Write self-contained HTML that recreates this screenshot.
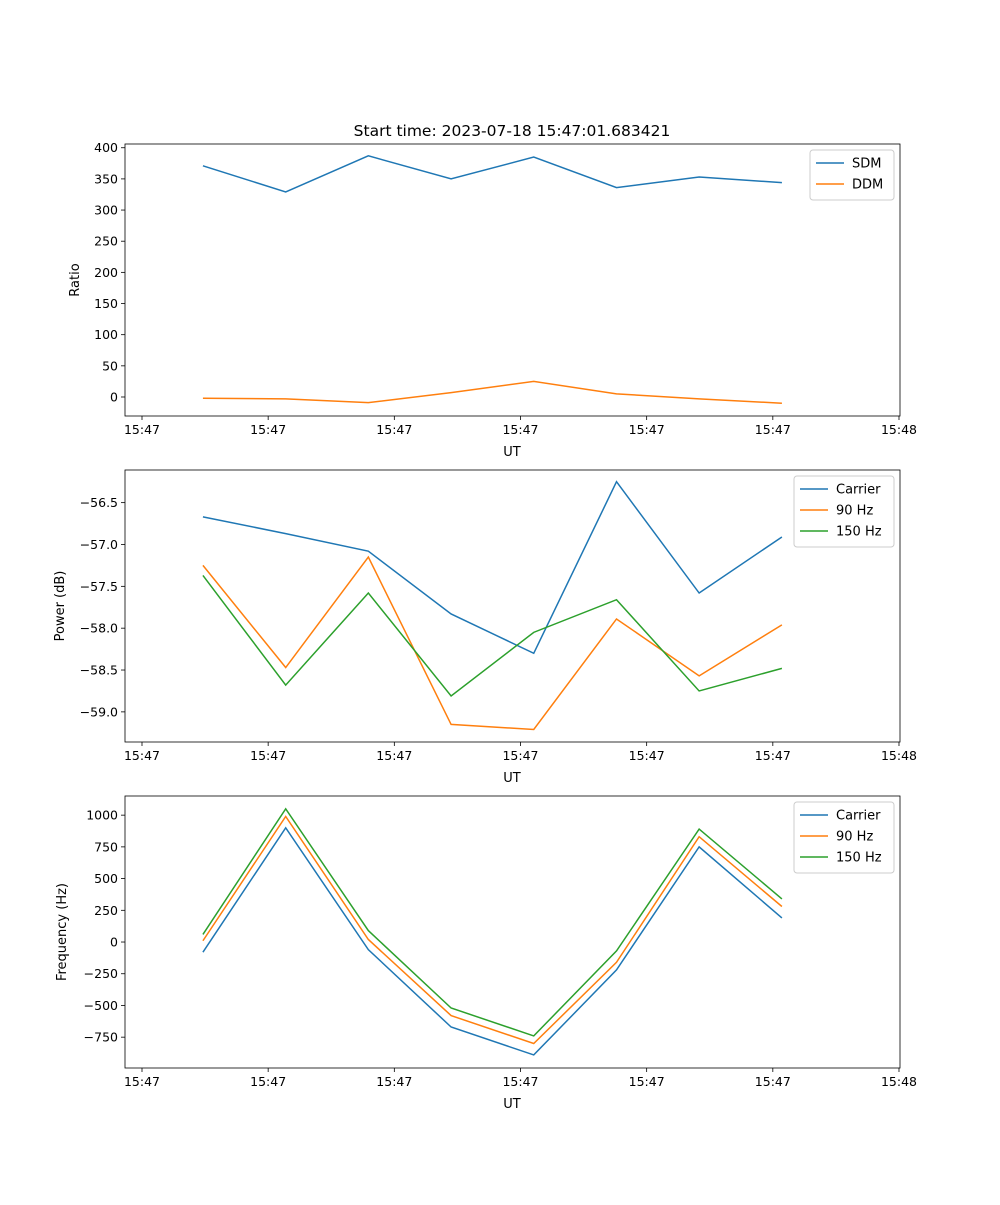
<!DOCTYPE html>
<html><head><meta charset="utf-8"><style>
body{margin:0;background:#fff;font-family:"Liberation Sans","DejaVu Sans",sans-serif}
svg text{font-family:"DejaVu Sans","Liberation Sans",sans-serif}
</style></head><body>
<svg id="fig" width="1000" height="1200" xmlns="http://www.w3.org/2000/svg">
<rect width="1000" height="1200" fill="#fff"/>
<text x="512" y="136" font-size="15.5" text-anchor="middle">Start time: 2023-07-18 15:47:01.683421</text>
</svg>
<script>
// shared x data (seconds-ish units relative to first tick)
const times = [0.483, 1.139, 1.794, 2.450, 3.105, 3.761, 4.416, 5.072];
const xTicks = [0, 1, 2, 3, 4, 5, 6];
const xTickLabels = ["15:47","15:47","15:47","15:47","15:47","15:47","15:48"];

const sdm = [371, 329, 387, 350, 385, 336, 353, 344];
const ddm = [-2, -3, -9, 7, 25, 5, -3, -10];
const ratioTicks = [0,50,100,150,200,250,300,350,400];

const powCarrier = [-56.67, -56.87, -57.08, -57.83, -58.30, -56.25, -57.58, -56.91];
const pow90 = [-57.25, -58.47, -57.15, -59.15, -59.21, -57.89, -58.57, -57.96];
const pow150 = [-57.37, -58.68, -57.58, -58.81, -58.05, -57.66, -58.75, -58.48];
const powTicks = [-59.0,-58.5,-58.0,-57.5,-57.0,-56.5];
const powTickLabels = ["\u221259.0","\u221258.5","\u221258.0","\u221257.5","\u221257.0","\u221256.5"];

const freqCarrier = [-80, 900, -60, -670, -890, -220, 750, 190];
const freq90 = [10, 990, 20, -580, -800, -160, 830, 280];
const freq150 = [60, 1050, 90, -520, -740, -70, 890, 340];
const freqTicks = [-750,-500,-250,0,250,500,750,1000];
const freqTickLabels = ["\u2212750","\u2212500","\u2212250","0","250","500","750","1000"];

const NS="http://www.w3.org/2000/svg";
const svg=document.getElementById('fig');
function mk(tag,attrs,parent){const e=document.createElementNS(NS,tag);for(const k in attrs)e.setAttribute(k,attrs[k]);(parent||svg).appendChild(e);return e;}

function panel(name,top,yMin,yMax,yT,yTL,ylabel,ylabelX,series,legendW){
  const L=125,R=900,T=top,B=top+272;
  const xMin=-0.1347,xMax=6.008;
  const xs=v=>L+(v-xMin)/(xMax-xMin)*(R-L);
  const ys=v=>B-(v-yMin)/(yMax-yMin)*(B-T);
  const g=mk('g',{});
  
  
  xTicks.forEach((t,i)=>{
    const x=xs(t);
    const l=mk('line',{x1:x,x2:x,y1:B,y2:B+4,stroke:'#000','stroke-width':0.8},g);
    
    
    const tx=mk('text',{x:x,y:B+18,'font-size':12.5,'text-anchor':'middle'},g);
    tx.textContent=xTickLabels[i];
    
    
  });
  const xl=mk('text',{x:512,y:B+40,'font-size':13,'text-anchor':'middle'},g);
  xl.textContent='UT';
  
  
  yT.forEach((t,i)=>{
    const y=ys(t);
    const l=mk('line',{x1:L-4,x2:L,y1:y,y2:y,stroke:'#000','stroke-width':0.8},g);
    
    
    const tx=mk('text',{x:L-7,y:y+4.5,'font-size':12.5,'text-anchor':'end'},g);
    tx.textContent=yTL[i];
    
    
  });
  const yl=mk('text',{x:ylabelX,y:(T+B)/2,'font-size':13,'text-anchor':'middle',transform:`rotate(-90 ${ylabelX} ${(T+B)/2})`},g);
  yl.textContent=ylabel;
  
  
  series.forEach(s=>{
    const p=mk('polyline',{points:s.data.map((v,i)=>xs(times[i])+','+ys(v)).join(' '),fill:'none',stroke:s.color,'stroke-width':1.5},g);
    
    
  });
  const fr=mk('rect',{x:L,y:T,width:R-L,height:B-T,fill:'none',stroke:'#000','stroke-width':0.8},g);
  
  
  const lx=R-6-legendW, ly=T+6, lh=8+series.length*21;
  const lg=mk('g',{},g);
  
  
  mk('rect',{x:lx,y:ly,width:legendW,height:lh,rx:3,fill:'#fff','fill-opacity':0.8,stroke:'#ccc'},lg);
  series.forEach((s,i)=>{
    const yy=ly+13+i*21;
    mk('line',{x1:lx+6,x2:lx+34,y1:yy,y2:yy,stroke:s.color,'stroke-width':1.5},lg);
    const t=mk('text',{x:lx+42,y:yy+4.5,'font-size':13},lg);
    t.textContent=s.label;
    
    
  });
}
const C1='#1f77b4',C2='#ff7f0e',C3='#2ca02c';
panel('ratio',144,-30.5,406,ratioTicks,ratioTicks.map(String),'Ratio',79,
  [{key:'sdm',label:'SDM',data:sdm,color:C1},{key:'ddm',label:'DDM',data:ddm,color:C2}],84);
panel('power',470,-59.36,-56.11,powTicks,powTickLabels,'Power (dB)',64,
  [{key:'carrier',label:'Carrier',data:powCarrier,color:C1},{key:'90hz',label:'90 Hz',data:pow90,color:C2},{key:'150hz',label:'150 Hz',data:pow150,color:C3}],100);
panel('frequency',796,-993,1151,freqTicks,freqTickLabels,'Frequency (Hz)',66,
  [{key:'carrier',label:'Carrier',data:freqCarrier,color:C1},{key:'90hz',label:'90 Hz',data:freq90,color:C2},{key:'150hz',label:'150 Hz',data:freq150,color:C3}],100);
</script>
</body></html>
